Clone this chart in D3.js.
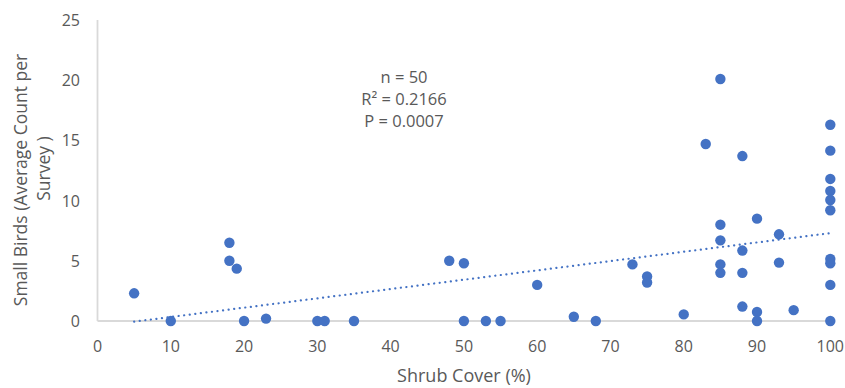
<!DOCTYPE html>
<html>
<head>
<meta charset="utf-8">
<script src="https://cdn.jsdelivr.net/npm/d3@7"></script>
<style>
    body { margin: 0; background: #fff; }
    svg text { font-family: "Open Sans", sans-serif; fill: #595959; }
</style>
</head>
<body>
<svg id="chart" width="845" height="388"></svg>
<script>
// shrub cover (%) per site
var shrubCover = [5, 10, 18, 18, 19, 20, 23, 30, 31, 35,
    48, 50, 50, 53, 55, 60, 65, 68, 73, 75, 75, 80, 83,
    85, 85, 85, 85, 85, 88, 88, 88, 88, 90, 90, 90, 93, 93, 95,
    100, 100, 100, 100, 100, 100, 100, 100, 100, 100];
// small birds, average count per survey
var smallBirds = [2.3, 0, 6.5, 5.0, 4.35, 0, 0.2, 0, 0, 0,
    5.0, 4.8, 0, 0, 0, 3.0, 0.35, 0, 4.7, 3.7, 3.2, 0.55, 14.7,
    20.1, 8.0, 6.7, 4.7, 4.0, 13.7, 5.85, 4.0, 1.2, 8.5, 0.75, 0, 7.2, 4.85, 0.9,
    16.3, 14.15, 11.8, 10.8, 10.05, 9.2, 5.15, 4.8, 3.0, 0];

var xTicks = [0, 10, 20, 30, 40, 50, 60, 70, 80, 90, 100];
var yTicks = [0, 5, 10, 15, 20, 25];

// linear trendline as shown (y = slope * x + intercept), drawn from x=5 to x=100
var trendRange = [5, 100];
var trendSlope = 0.0774;
var trendIntercept = -0.44;

var statsLines = ["n = 50", "R² = 0.2166", "P = 0.0007"];

var svg = d3.select("#chart");

var x = d3.scaleLinear().domain([0, 100]).range([97.5, 830.3]);
var y = d3.scaleLinear().domain([0, 25]).range([321, 20]);

// axis lines
svg.append("line")
    .attr("x1", x(0)).attr("x2", x(0))
    .attr("y1", y(25)).attr("y2", y(0))
    .attr("stroke", "#d9d9d9").attr("stroke-width", 1.8);
svg.append("line")
    .attr("x1", x(0)).attr("x2", x(100))
    .attr("y1", y(0)).attr("y2", y(0))
    .attr("stroke", "#d9d9d9").attr("stroke-width", 1.8);

// tick labels
svg.selectAll(".xlab").data(xTicks).enter()
    .append("text").attr("class", "xlab")
    .attr("x", function (d) { return x(d); })
    .attr("y", 346)
    .attr("text-anchor", "middle")
    .attr("dominant-baseline", "central")
    .style("font-size", "16px")
    .text(function (d) { return d; });

svg.selectAll(".ylab").data(yTicks).enter()
    .append("text").attr("class", "ylab")
    .attr("x", 80)
    .attr("y", function (d) { return y(d); })
    .attr("text-anchor", "end")
    .attr("dominant-baseline", "central")
    .style("font-size", "16px")
    .text(function (d) { return d; });

// trendline
svg.append("line")
    .attr("x1", x(trendRange[0]))
    .attr("y1", y(trendSlope * trendRange[0] + trendIntercept))
    .attr("x2", x(trendRange[1]))
    .attr("y2", y(trendSlope * trendRange[1] + trendIntercept))
    .attr("stroke", "#4472c4")
    .attr("stroke-width", 2.2)
    .attr("stroke-linecap", "round")
    .attr("stroke-dasharray", "0.1 5.5");

// points
svg.selectAll(".pt").data(shrubCover).enter()
    .append("circle").attr("class", "pt")
    .attr("cx", function (d) { return x(d); })
    .attr("cy", function (d, i) { return y(smallBirds[i]); })
    .attr("r", 5.2)
    .attr("fill", "#4472c4");

// stats annotation
svg.selectAll(".stat").data(statsLines).enter()
    .append("text").attr("class", "stat")
    .attr("x", 404)
    .attr("y", function (d, i) { return 76 + i * 22; })
    .attr("text-anchor", "middle")
    .attr("dominant-baseline", "central")
    .style("font-size", "16.5px")
    .text(function (d) { return d; });

// axis titles
svg.append("text")
    .attr("x", 464).attr("y", 375)
    .attr("text-anchor", "middle")
    .attr("dominant-baseline", "central")
    .style("font-size", "18px")
    .text("Shrub Cover (%)");

svg.append("text")
    .attr("transform", "translate(19.5,180) rotate(-90)")
    .attr("text-anchor", "middle")
    .attr("dominant-baseline", "central")
    .style("font-size", "17.5px")
    .text("Small Birds (Average Count per");
svg.append("text")
    .attr("transform", "translate(42.5,168.5) rotate(-90)")
    .attr("text-anchor", "middle")
    .attr("dominant-baseline", "central")
    .style("font-size", "17.5px")
    .text("Survey )");
</script>
</body>
</html>
